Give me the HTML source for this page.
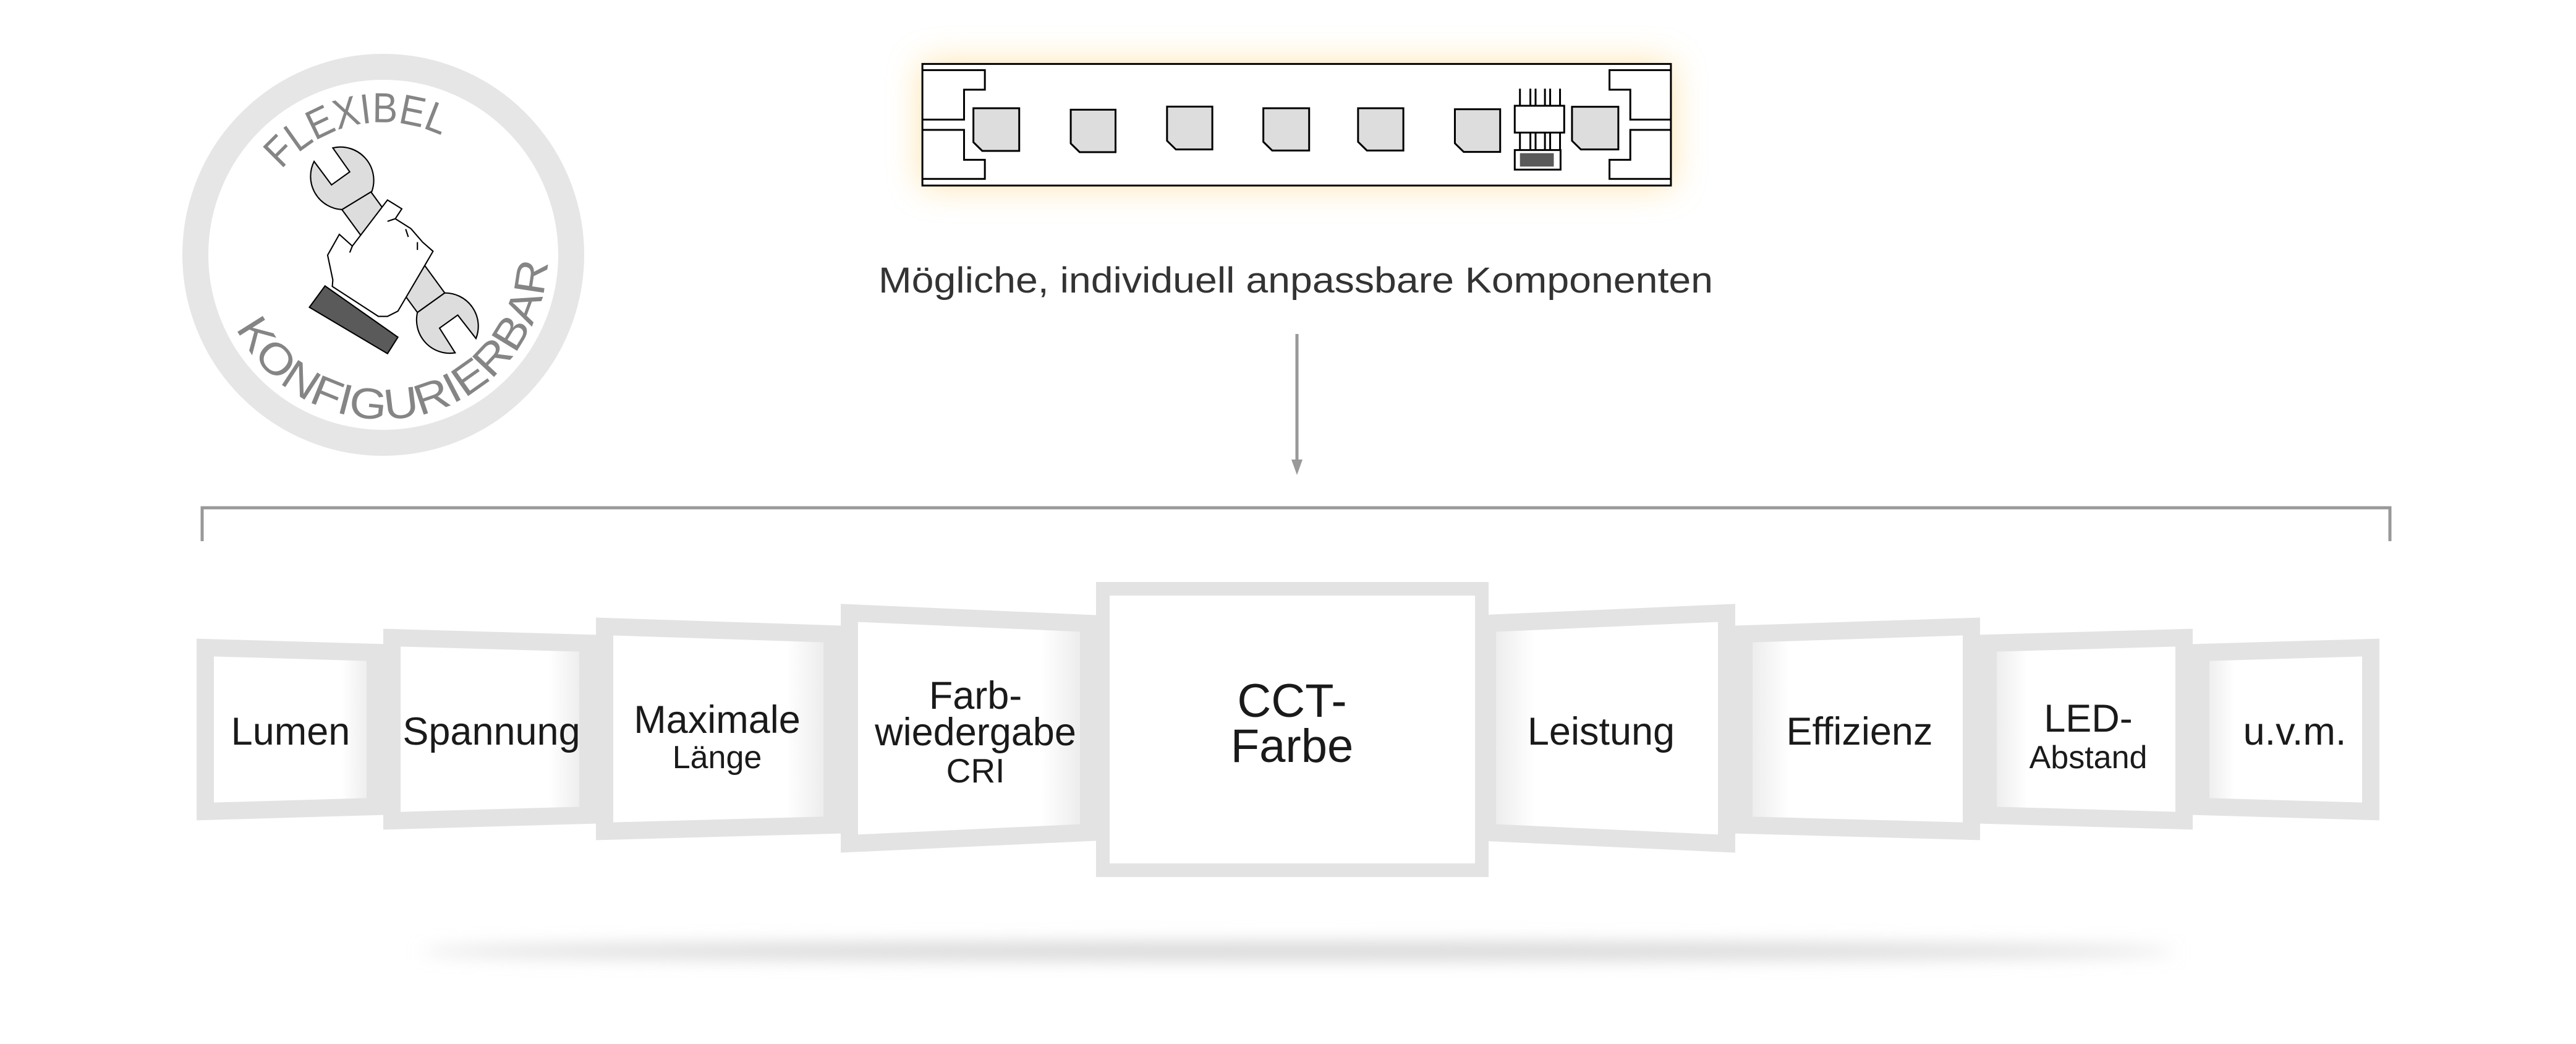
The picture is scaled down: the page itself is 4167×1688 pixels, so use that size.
<!DOCTYPE html>
<html><head><meta charset="utf-8"><style>
html,body{margin:0;padding:0;background:#fff;}
svg{display:block;}
text{font-family:"Liberation Sans",sans-serif;}
</style></head><body>
<svg width="4167" height="1688" viewBox="0 0 4167 1688" xmlns="http://www.w3.org/2000/svg">
<defs>
  <filter id="glow" x="-20%" y="-80%" width="140%" height="260%"><feGaussianBlur stdDeviation="28"/></filter>
  <filter id="sh" x="-20%" y="-300%" width="140%" height="700%"><feGaussianBlur stdDeviation="14"/></filter>
  <linearGradient id="gl" x1="0" y1="0" x2="1" y2="0"><stop offset="0.8" stop-color="#fff"/><stop offset="1" stop-color="#e9e9e9"/></linearGradient>
  <linearGradient id="gr" x1="1" y1="0" x2="0" y2="0"><stop offset="0.8" stop-color="#fff"/><stop offset="1" stop-color="#e9e9e9"/></linearGradient>
  <path id="arcTop" d="M 408.3 449.3 A 215 215 0 0 1 828.6 360"/>
  <path id="arcBot" d="M 354 421 A 266 266 0 1 0 866.6 312.4"/>
</defs>

<!-- Badge -->
<circle cx="620" cy="412" r="304" fill="#fff" stroke="#e6e6e6" stroke-width="42"/>
<text font-size="68" fill="#858585"><textPath href="#arcTop" startOffset="50%" text-anchor="middle" textLength="285" lengthAdjust="spacingAndGlyphs">FLEXIBEL</textPath></text>
<text font-size="70" fill="#858585"><textPath href="#arcBot" startOffset="50%" text-anchor="middle" textLength="700" lengthAdjust="spacingAndGlyphs">KONFIGURIERBAR</textPath></text>
<g transform="translate(290,80) scale(0.421)" stroke="#000" stroke-width="5" stroke-linejoin="miter">
  <path d="M625 615 L735 545 L1020 935 L915 1010 Z" fill="#dcdddc"/>
  <path d="M518 430 L585 520 L655 470 L590 378 A128 128 0 0 1 740 545 L625 615 A128 128 0 0 1 518 430 Z" fill="#dcdddc"/>
  <path d="M1140 1110 L1070 1020 L1000 1070 L1060 1165 A128 128 0 0 1 915 1010 L1020 935 A128 128 0 0 1 1140 1110 Z" fill="#dcdddc"/>
  <path d="M590 885 L570 790 L615 710 L665 755 L800 578 L855 612 L830 650 L890 688 L935 740 L975 775 L940 835 L840 1005 L800 1025 L765 1025 L588 910 Z" fill="#fff"/>
  <path d="M800 660 L830 650 M870 690 L880 720 M915 740 L915 770 M655 780 L665 755" fill="none"/>
  <path d="M500 990 L560 908 L840 1105 L800 1168 Z" fill="#5a5a5a"/>
</g>

<!-- LED strip -->
<rect x="1492" y="103" width="1211" height="197" fill="#ffd98a" opacity="0.75" filter="url(#glow)"/>
<g transform="translate(1450,60) scale(0.842,0.3333)" fill="none" stroke="#000" stroke-width="3">
  <rect x="50" y="130" width="1438" height="590" fill="#fff" vector-effect="non-scaling-stroke"/>
  <path d="M50 160 L170 160 L170 255 L130 255 L130 400 L50 400 M50 450 L130 450 L130 595 L170 595 L170 688 L50 688" vector-effect="non-scaling-stroke"/>
  <path d="M1488 160 L1370 160 L1370 255 L1410 255 L1410 400 L1488 400 M1488 450 L1410 450 L1410 595 L1370 595 L1370 688 L1488 688" vector-effect="non-scaling-stroke"/>
  <g fill="#dcdddc">
    <path d="M148 345 L236 345 L236 552 L165 552 L148 510 Z" vector-effect="non-scaling-stroke"/>
    <path d="M335 352 L421 352 L421 558 L352 558 L335 516 Z" vector-effect="non-scaling-stroke"/>
    <path d="M520 337 L607 337 L607 545 L537 545 L520 503 Z" vector-effect="non-scaling-stroke"/>
    <path d="M705 345 L793 345 L793 550 L722 550 L705 508 Z" vector-effect="non-scaling-stroke"/>
    <path d="M887 345 L974 345 L974 550 L904 550 L887 508 Z" vector-effect="non-scaling-stroke"/>
    <path d="M1073 350 L1160 350 L1160 557 L1090 557 L1073 515 Z" vector-effect="non-scaling-stroke"/>
    <path d="M1298 338 L1387 338 L1387 545 L1315 545 L1298 503 Z" vector-effect="non-scaling-stroke"/>
  </g>
  <path d="M1198 333 L1198 250 M1218 333 L1218 250 M1228 333 L1228 250 M1246 333 L1246 250 M1256 333 L1256 250 M1275 333 L1275 250 M1198 463 L1198 550 M1218 463 L1218 550 M1228 463 L1228 550 M1246 463 L1246 550 M1256 463 L1256 550 M1275 463 L1275 550" vector-effect="non-scaling-stroke"/>
  <rect x="1188" y="333" width="95" height="130" fill="#fff" vector-effect="non-scaling-stroke"/>
  <rect x="1188" y="548" width="88" height="95" fill="#fff" vector-effect="non-scaling-stroke"/>
  <rect x="1198" y="563" width="65" height="65" fill="#5a5a5a" stroke="none"/>
</g>

<text x="2096" y="473" font-size="58" fill="#333" text-anchor="middle" textLength="1350" lengthAdjust="spacingAndGlyphs">Mögliche, individuell anpassbare Komponenten</text>

<!-- arrow -->
<line x1="2098" y1="540" x2="2098" y2="745" stroke="#999" stroke-width="5"/>
<path d="M2089 743 L2107 743 L2098 768 Z" fill="#999"/>

<!-- bracket -->
<path d="M327 875 L327 821 L3866 821 L3866 875" fill="none" stroke="#999" stroke-width="5"/>

<!-- floor shadow -->
<ellipse cx="2100" cy="1538" rx="1420" ry="14" fill="#d4d4d4" filter="url(#sh)"/>

<!-- boxes -->
<g stroke="#e3e3e3" stroke-width="28" stroke-linejoin="miter">
  <polygon points="332,1047 607,1055 607,1304 332,1312" fill="url(#gl)"/>
  <polygon points="3835,1047 3560,1055 3560,1304 3835,1312" fill="url(#gr)"/>
  <polygon points="634,1031 951,1040 951,1318 634,1327" fill="url(#gl)"/>
  <polygon points="3533,1031 3216,1040 3216,1318 3533,1327" fill="url(#gr)"/>
  <polygon points="978,1013 1346,1025 1346,1334 978,1344" fill="url(#gl)"/>
  <polygon points="3189,1013 2821,1025 2821,1334 3189,1344" fill="url(#gr)"/>
  <polygon points="1374,991 1761,1008 1761,1346 1374,1364" fill="url(#gl)"/>
  <polygon points="2793,991 2406,1008 2406,1346 2793,1364" fill="url(#gr)"/>
</g>
<rect x="1784" y="952" width="613" height="455" fill="#fff" stroke="#e3e3e3" stroke-width="22"/>

<g fill="#1a1a1a" font-size="63" text-anchor="middle">
  <text x="470" y="1204">Lumen</text>
  <text x="795" y="1204">Spannung</text>
  <text x="1160" y="1185">Maximale</text>
  <text x="1160" y="1242" font-size="52">Länge</text>
  <text x="1578" y="1146">Farb-</text>
  <text x="1578" y="1205">wiedergabe</text>
  <text x="1578" y="1265" font-size="55">CRI</text>
  <text x="2090" y="1159" font-size="76">CCT-</text>
  <text x="2090" y="1232" font-size="76">Farbe</text>
  <text x="2590" y="1204">Leistung</text>
  <text x="3008" y="1204">Effizienz</text>
  <text x="3378" y="1183">LED-</text>
  <text x="3378" y="1242" font-size="52">Abstand</text>
  <text x="3712" y="1204">u.v.m.</text>
</g>
</svg>
</body></html>
